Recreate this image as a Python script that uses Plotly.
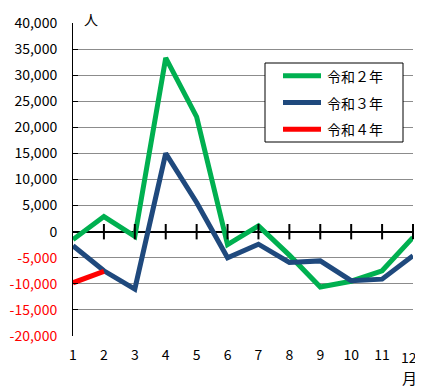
import plotly.graph_objects as go

months = list(range(1, 13))
month_labels = [str(m) for m in months]
r2 = [-1500, 2900, -900, 33300, 22000, -2500, 1100, -4500, -10600, -9500, -7500, -1100]
r3 = [-2700, -7500, -11000, 15000, 5600, -5000, -2400, -5900, -5600, -9400, -9100, -4600]
r4_months = [1, 2]
r4 = [-9800, -7600]
names = ["令和２年", "令和３年", "令和４年"]
colors = ["#00B050", "#1F497D", "#FF0000"]

ytick_vals = list(range(-20000, 40001, 5000))
ytick_text = []
for v in ytick_vals:
    s = f"{v:,}"
    if v < 0:
        s = f'<span style="color:#FF0000">{s}</span>'
    ytick_text.append(s)

font_jp = "Noto Sans CJK JP"

# page body has an 8px default margin; size the figure to fit the window
W, H = 415, 379
L, R, T, B = 65, 10, 15, 51
pw, ph = W - L - R, H - T - B


def px(fx):
    return (fx - L) / pw


def py(fy):
    return (H - B - fy) / ph


fig = go.Figure()
for i, (xs, ys) in enumerate([(months, r2), (months, r3), (r4_months, r4)]):
    fig.add_trace(go.Scatter(x=xs, y=ys, mode="lines", name=names[i], showlegend=False,
                             line=dict(color=colors[i], width=5)))

# tick marks crossing the zero axis
fig.add_trace(go.Scatter(x=months[1:], y=[0] * 11, mode="markers", showlegend=False,
                         hoverinfo="skip", cliponaxis=False,
                         marker=dict(symbol="line-ns", size=11,
                                     line=dict(color="black", width=2))))

# legend box (drawn manually to match the original's proportions)
shapes = [dict(type="rect", xref="paper", yref="paper",
               x0=px(257), x1=px(395), y0=py(134), y1=py(55),
               line=dict(color="black", width=1), fillcolor="white", layer="above")]
annotations = []
for i, name in enumerate(names):
    fy = 67.7 + i * 26.8
    shapes.append(dict(type="line", xref="paper", yref="paper",
                       x0=px(275), x1=px(313), y0=py(fy), y1=py(fy),
                       line=dict(color=colors[i], width=5), layer="above"))
    annotations.append(dict(text=name, x=px(317), y=py(fy), xref="paper", yref="paper",
                            xanchor="left", yanchor="middle", showarrow=False,
                            font=dict(size=14, family=font_jp, color="black")))

annotations += [
    dict(text="人", x=px(83), y=py(11), xref="paper", yref="paper",
         xanchor="center", yanchor="middle", borderpad=0,
         showarrow=False, font=dict(size=14, family=font_jp)),
    # last month label sits a little left/lower in the original, next to 月
    dict(text=month_labels[-1], x=px(401), y=py(349), xref="paper", yref="paper",
         xanchor="center", yanchor="middle",
         showarrow=False, font=dict(size=14, family=font_jp)),
    dict(text="月", x=px(401), y=py(369), xref="paper", yref="paper",
         xanchor="center", yanchor="middle",
         showarrow=False, font=dict(size=15, family=font_jp)),
]

fig.update_layout(
    width=W, height=H,
    margin=dict(l=L, r=R, t=T, b=B),
    plot_bgcolor="white", paper_bgcolor="white",
    font=dict(family=font_jp, size=14, color="black"),
    showlegend=False,
    xaxis=dict(range=[1, 12], tickvals=months[:-1], ticktext=month_labels[:-1],
               showgrid=False, showline=False, zeroline=False, ticks="",
               automargin=False,
               tickfont=dict(size=14, family=font_jp), ticklabelstandoff=9),
    yaxis=dict(range=[-20000, 40000], tickvals=ytick_vals, ticktext=ytick_text,
               showgrid=True, gridcolor="#8C8C8C", gridwidth=1,
               zeroline=True, zerolinecolor="black", zerolinewidth=2,
               showline=True, linecolor="black", linewidth=1,
               ticks="inside", ticklen=5, tickcolor="black",
               automargin=False,
               tickfont=dict(size=14, family=font_jp), ticklabelstandoff=12),
    shapes=shapes,
    annotations=annotations,
)
fig.write_html("out.html")
